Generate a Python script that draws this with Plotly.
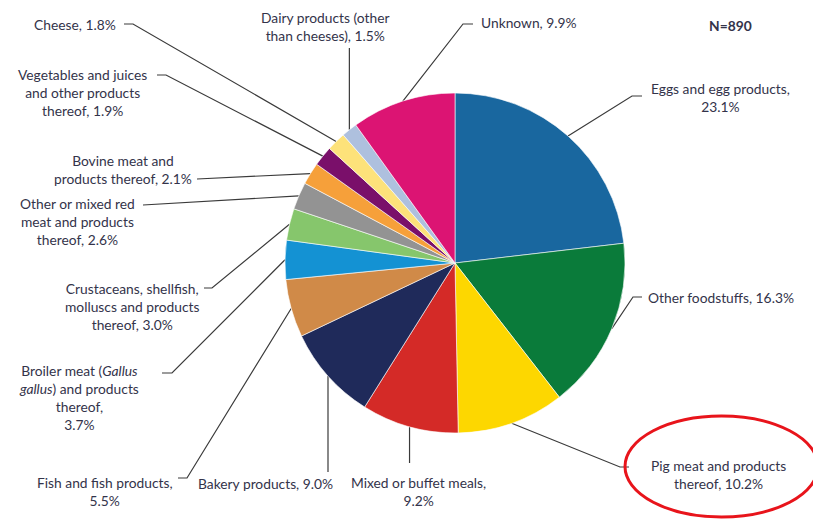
import math
import plotly.graph_objects as go

# ---- data ----
categories = [
    "Eggs and egg products", "Other foodstuffs", "Pig meat and products thereof",
    "Mixed or buffet meals", "Bakery products", "Fish and fish products",
    "Broiler meat (Gallus gallus) and products thereof",
    "Crustaceans, shellfish, molluscs and products thereof",
    "Other or mixed red meat and products thereof", "Bovine meat and products thereof",
    "Vegetables and juices and other products thereof", "Cheese",
    "Dairy products (other than cheeses)", "Unknown",
]
values = [23.1, 16.3, 10.2, 9.2, 9.0, 5.5, 3.7, 3.0, 2.6, 2.1, 1.9, 1.8, 1.5, 9.9]
label_texts = [
    "Eggs and egg products,<br>23.1%",
    "Other foodstuffs, 16.3%",
    "Pig meat and products<br>thereof, 10.2%",
    "Mixed or buffet meals,<br>9.2%",
    "Bakery products, 9.0%",
    "Fish and fish products,<br>5.5%",
    "Broiler meat (<i>Gallus</i><br><i>gallus</i>) and products<br>thereof,<br>3.7%",
    "Crustaceans, shellfish,<br>molluscs and products<br>thereof, 3.0%",
    "Other or mixed red<br>meat and products<br>thereof, 2.6%",
    "Bovine meat and<br>products thereof, 2.1%",
    "Vegetables and juices<br>and other products<br>thereof, 1.9%",
    "Cheese, 1.8%",
    "Dairy products (other<br>than cheeses), 1.5%",
    "Unknown, 9.9%",
]
colors = ["#19679f", "#0a7b3a", "#fdd700", "#d42a27", "#1f2a5a", "#d08a48", "#1492d3",
          "#86c66c", "#939393", "#f6a03a", "#7a0f6a", "#fde27a", "#aec0de", "#dc1473"]
n_text = "N=890"

# ---- layout constants (screen pixels) ----
W, H = 821, 523
OFF = 8  # page body margin
CX, CY, R = 455, 263, 170
# label anchor: (x, y, xanchor)
label_pos = [
    (720, 97, "center"), (646, 297, "left"), (718, 474, "center"), (418, 491, "center"),
    (265, 483, "center"), (105, 491, "center"), (79, 397, "center"), (132, 306, "center"),
    (77, 221, "center"), (123, 169, "center"), (82, 92, "center"), (118, 24, "right"),
    (325, 26, "center"), (479, 22, "left"),
]
# leader line path after the slice edge point (None x -> keep vertical)
leader_paths = [
    [(632, 96), (642, 96)],
    [(633, 297), (642, 297)],
    [(620, 467), (629, 467)],
    [(None, 463)],
    [(None, 472)],
    [(187, 478), (178, 478)],
    [(172, 373), (162, 373)],
    [(212, 288), (204, 288)],
    [(143, 205)],
    [(197, 179)],
    [(166, 75), (157, 75)],
    [(133, 24), (124, 24)],
    [(None, 48)],
    [(463, 24), (473, 24)],
]

FONT = "Lato"
FS = 13.8
TXT = "#33334a"

fig = go.Figure()
pcx, pcy = CX - OFF, CY - OFF
fig.add_trace(go.Pie(
    labels=categories, values=values, sort=False, direction="clockwise", rotation=0,
    marker=dict(colors=colors, line=dict(color="white", width=0.6)),
    textinfo="none", hoverinfo="label+percent", showlegend=False,
    domain=dict(x=[(pcx - R) / W, (pcx + R) / W], y=[(H - pcy - R) / H, (H - pcy + R) / H]),
))

total = sum(values)
cum = 0.0
annotations = []
for v, txt, pos, path in zip(values, label_texts, label_pos, leader_paths):
    mid = (cum + v / 2) / total * 2 * math.pi
    cum += v
    sx = CX + R * math.sin(mid)
    sy = CY - R * math.cos(mid)
    xs, ys = [sx], [sy]
    for px, py in path:
        xs.append(sx if px is None else px)
        ys.append(py)
    fig.add_trace(go.Scatter(x=xs, y=ys, mode="lines", line=dict(color="#3a3a3a", width=1.2),
                             hoverinfo="skip", showlegend=False))
    annotations.append(dict(x=pos[0], y=pos[1], xref="x", yref="y", text=txt, showarrow=False,
                            xanchor=pos[2], yanchor="middle", align="center",
                            font=dict(family=FONT, size=FS, color=TXT)))

annotations.append(dict(x=730, y=25, xref="x", yref="y", text="<b>" + n_text + "</b>",
                        showarrow=False, xanchor="center", yanchor="middle",
                        font=dict(family=FONT, size=FS, color=TXT)))

fig.update_layout(
    width=W, height=H, margin=dict(l=0, r=0, t=0, b=0),
    paper_bgcolor="white", plot_bgcolor="rgba(0,0,0,0)",
    xaxis=dict(range=[OFF, W + OFF], visible=False, fixedrange=True),
    yaxis=dict(range=[H + OFF, OFF], visible=False, fixedrange=True),
    annotations=annotations,
    shapes=[dict(type="circle", xref="x", yref="y", x0=625, x1=818, y0=416, y1=517,
                 line=dict(color="#e8141b", width=3))],
)

fig.write_html("out.html")
